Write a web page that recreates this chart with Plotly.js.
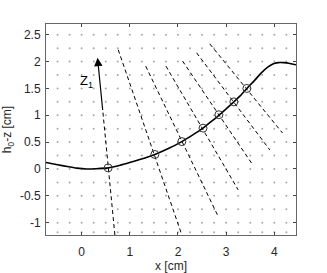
<!DOCTYPE html>
<html>
<head>
<meta charset="utf-8">
<script src="https://cdn.plot.ly/plotly-3.0.1.min.js"></script>
<style>html,body{margin:0;padding:0;background:#fff;}#chart{width:327px;height:273px;}</style>
</head>
<body>
<div id="chart"></div>
<script>
// Surface profile h0 - z
const curveX = [-0.74, -0.5, -0.3, -0.1, 0.1, 0.3, 0.55, 0.8, 1.07, 1.3, 1.52, 1.8, 2.08, 2.3, 2.52, 2.7, 2.85, 3.0, 3.16, 3.3, 3.43, 3.6, 3.73, 3.87, 3.98, 4.08, 4.2, 4.3, 4.45];
const curveY = [0.12, 0.08, 0.045, 0.015, 0.0, 0.005, 0.02, 0.07, 0.14, 0.2, 0.27, 0.38, 0.51, 0.63, 0.76, 0.89, 1.0, 1.12, 1.25, 1.37, 1.5, 1.66, 1.79, 1.9, 1.96, 1.98, 1.98, 1.97, 1.94];

// Marked points on the profile
const circleX = [0.55, 1.52, 2.08, 2.52, 2.85, 3.16, 3.43];
const circleY = [0.02, 0.27, 0.51, 0.76, 1.01, 1.25, 1.5];

// Dashed lines (top and bottom ends)
const lineTopX = [0.76, 1.33, 1.75, 2.095, 2.386, 2.66];
const lineTopY = [2.22, 1.915, 1.915, 2.01, 2.163, 2.33];
const lineBotX = [2.08, 2.83, 3.25, 3.56, 3.907, 4.17];
const lineBotY = [-1.23, -0.876, -0.39, 0.065, 0.354, 0.67];

// z1 axis: bottom, end of dashed part, arrow tip
const z1X = [0.69, 0.44, 0.33];
const z1Y = [-1.23, 1.07, 2.07];
const z1Label = "Z<sub>1</sub>";
const z1LabelX = 0.1;
const z1LabelY = 1.62;

// Dotted grid lattice
const gridX = [-0.5, -0.25, 0, 0.25, 0.5, 0.75, 1, 1.25, 1.5, 1.75, 2, 2.25, 2.5, 2.75, 3, 3.25, 3.5, 3.75, 4, 4.25];
const gridY = [-1.18, -1, -0.75, -0.5, -0.25, 0, 0.25, 0.5, 0.75, 1, 1.25, 1.5, 1.75, 2, 2.25, 2.5];

const xTickVals = [0, 1, 2, 3, 4];
const xTickText = ["0", "1", "2", "3", "4"];
const yTickVals = [-1, -0.5, 0, 0.5, 1, 1.5, 2, 2.5];
const yTickText = ["-1", "-0.5", "0", "0.5", "1", "1.5", "2", "2.5"];

const xTitle = "x [cm]";
const yTitle = "h<sub>0</sub>-z [cm]";

const traces = [];
const gx = [], gy = [];
gridX.forEach(x => gridY.forEach(y => { gx.push(x); gy.push(y); }));
traces.push({x: gx, y: gy, mode: 'markers', type: 'scatter',
  marker: {size: 2, color: '#a8a8a8'}, hoverinfo: 'skip'});

for (let i = 0; i < lineTopX.length; i++) {
  traces.push({x: [lineTopX[i], lineBotX[i]], y: [lineTopY[i], lineBotY[i]],
    mode: 'lines', type: 'scatter', line: {color: '#000', width: 1, dash: '4px,3px'}});
}
traces.push({x: [z1X[0], z1X[1]], y: [z1Y[0], z1Y[1]], mode: 'lines', type: 'scatter',
  line: {color: '#000', width: 1, dash: '4px,3px'}});

traces.push({x: curveX, y: curveY, mode: 'lines', type: 'scatter',
  line: {color: '#000', width: 1.6, shape: 'spline', smoothing: 0.5}});

traces.push({x: circleX, y: circleY, mode: 'markers', type: 'scatter',
  marker: {symbol: 'circle-open', size: 8, color: '#333', line: {width: 1, color: '#333'}}});

const font = {family: 'Liberation Sans, Arial, sans-serif', size: 12, color: '#262626'};

const layout = {
  width: 327, height: 273,
  margin: {l: 46, r: 31, t: 24, b: 38, pad: 0},
  paper_bgcolor: '#fff', plot_bgcolor: '#fff',
  showlegend: false,
  font: font,
  xaxis: {
    range: [-0.74, 4.45], tickvals: xTickVals, ticktext: xTickText,
    showgrid: false, zeroline: false, showline: true, mirror: 'ticks',
    linecolor: '#666', linewidth: 1, ticks: 'inside', ticklen: 3, tickcolor: '#444',
    tickfont: font, ticklabelstandoff: 6,
    title: {text: xTitle, font: font, standoff: 4}
  },
  yaxis: {
    range: [-1.23, 2.70], tickvals: yTickVals, ticktext: yTickText,
    showgrid: false, zeroline: false, showline: true, mirror: 'ticks',
    linecolor: '#666', linewidth: 1, ticks: 'inside', ticklen: 3, tickcolor: '#444',
    tickfont: font, ticklabelstandoff: 2,
    title: {text: yTitle, font: font, standoff: 6}
  },
  annotations: [
    {x: z1X[2], y: z1Y[2], ax: z1X[1], ay: z1Y[1], axref: 'x', ayref: 'y', xref: 'x', yref: 'y',
     showarrow: true, arrowhead: 2, arrowsize: 1.4, arrowwidth: 1.2, arrowcolor: '#000', text: ''},
    {x: z1LabelX, y: z1LabelY, xref: 'x', yref: 'y', text: z1Label, showarrow: false,
     font: {family: 'Liberation Sans, Arial, sans-serif', size: 13, color: '#000'}}
  ]
};

Plotly.newPlot('chart', traces, layout, {displayModeBar: false, staticPlot: true});
</script>
</body>
</html>
